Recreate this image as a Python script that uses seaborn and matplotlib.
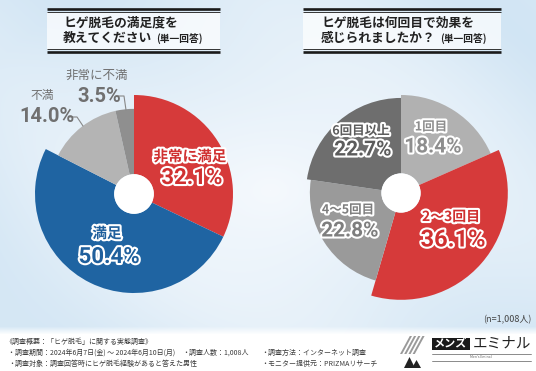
import numpy as np
import matplotlib
matplotlib.use('Agg')
import matplotlib.pyplot as plt
import seaborn as sns
from matplotlib import patheffects as pe
from matplotlib.patches import Rectangle, Polygon, Circle

sns.set_theme(style='white')
plt.rcParams['font.family'] = ['Noto Sans CJK JP', 'DejaVu Sans']
NUM_FONT = ['Liberation Sans Narrow', 'Roboto', 'DejaVu Sans']

# data
sat_labels = ['非常に満足', '満足', '不満', '非常に不満']
sat_values = [32.1, 50.4, 14.0, 3.5]
cnt_labels = ['1回目', '2～3回目', '4～5回目', '6回目以上']
cnt_values = [18.4, 36.1, 22.8, 22.7]

# style
sat_colors = ['#D63A3A', '#1F64A2', '#B4B4B4', '#8F8F8F']
cnt_colors = ['#B1B1B1', '#D63A3A', '#9A9A9A', '#6E6E6E']
sat_radius = [1.0, 1.0, 0.86, 0.86]
cnt_radius = [1.0, 1.09, 0.93, 0.97]
HOLE = 0.2
W, H = 536, 371

fig = plt.figure(figsize=(W / 100, H / 100), dpi=100)

# background
bg = fig.add_axes([0, 0, 1, 1], zorder=0)
yy, xx = np.mgrid[0:H, 0:W]
d = np.sqrt(((xx - 270) / 330.0) ** 2 + ((yy - 190) / 230.0) ** 2)
d = np.clip(d, 0, 1)
streak = 0.5 + 0.5 * np.sin((xx * 0.9 - yy) / 55.0)
light = np.array([245, 249, 253]) / 255.0
dark = np.array([206, 227, 243]) / 255.0
k = (0.6 * d + 0.3 * streak * d)[..., None]
img = light * (1 - k) + dark * k
fade = np.clip((yy - 326) / 8.0, 0, 1)[..., None]
img = img * (1 - fade) + fade * 1.0
bg.imshow(img, extent=(0, W, H, 0), aspect='auto')
bg.set_xlim(0, W)
bg.set_ylim(H, 0)
bg.axis('off')


def draw_pie(cx, cy, scale, values, colors, radii):
    half = 1.25 * scale
    ax = fig.add_axes([(cx - half) / W, 1 - (cy + half) / H, 2 * half / W, 2 * half / H], zorder=1)
    wedges, _ = ax.pie(values, colors=colors, startangle=90, counterclock=False,
                       wedgeprops=dict(width=1 - HOLE, linewidth=0))
    for w, r in zip(wedges, radii):
        w.set_radius(r)
        w.set_width(r - HOLE)
    ax.add_patch(Circle((0, 0), HOLE, facecolor='white', lw=0, zorder=5))
    ax.set_xlim(-1.25, 1.25)
    ax.set_ylim(-1.25, 1.25)
    ax.patch.set_visible(False)
    ax.axis('off')
    return ax


draw_pie(134, 194, 99, sat_values, sat_colors, sat_radius)
draw_pie(401, 193, 98, cnt_values, cnt_colors, cnt_radius)

# overlay for text
ov = fig.add_axes([0, 0, 1, 1], zorder=3)
ov.set_xlim(0, W)
ov.set_ylim(H, 0)
ov.axis('off')
ov.patch.set_visible(False)


def title_box(x0, x1, tx, line1, line2):
    ov.add_patch(Rectangle((x0, 11.5), x1 - x0, 38, facecolor='white', alpha=0.7, lw=0))
    ov.plot([x0, x1], [9, 9], color='#1a1a1a', lw=1.9, solid_capstyle='butt')
    ov.plot([x0, x1], [12, 12], color='#333333', lw=0.7, solid_capstyle='butt')
    ov.plot([x0, x1], [49, 49], color='#333333', lw=0.7, solid_capstyle='butt')
    ov.plot([x0, x1], [52, 52], color='#1a1a1a', lw=1.9, solid_capstyle='butt')
    ov.text(tx, 23, line1, fontsize=9.2, fontweight='bold', color='#222222', va='center', ha='left')
    t2 = ov.text(tx, 38, line2, fontsize=9.2, fontweight='bold', color='#222222', va='center', ha='left')
    ov.annotate('(単一回答)', xy=(1, 0.45), xycoords=t2, xytext=(3, 0), textcoords='offset points',
                fontsize=7, fontweight='bold', color='#222222', va='center', ha='left')


title_box(47, 220, 63, 'ヒゲ脱毛の満足度を', '教えてください')
title_box(303, 501, 321, 'ヒゲ脱毛は何回目で効果を', '感じられましたか？')


def slice_label(x, y, name, pct, color, name_size=9.5, pct_size=14, gap=21):
    stroke = [pe.withStroke(linewidth=3, foreground='white')]
    ov.text(x, y, name, fontsize=name_size, fontweight='bold', color=color,
            ha='center', va='center', path_effects=stroke)
    ov.text(x + 2, y + gap, pct, fontsize=pct_size, fontweight='bold', color=color,
            ha='center', va='center', path_effects=stroke, family=NUM_FONT)


pct = lambda v: f'{v:.1f}%'

# left pie labels
slice_label(190, 156, sat_labels[0], pct(sat_values[0]), '#D03030', name_size=10.5, pct_size=16, gap=22)
slice_label(107, 233, sat_labels[1], pct(sat_values[1]), '#1F5F9C', name_size=10.5, pct_size=16, gap=24)

gray_txt = '#707070'
ov.text(42, 95, sat_labels[2], fontsize=8.5, color=gray_txt, ha='center', va='center')
ov.text(47, 117, pct(sat_values[2]), fontsize=14.5, fontweight='bold', color=gray_txt,
        ha='center', va='center', family=NUM_FONT)
ov.plot([69, 77, 83], [117, 117, 126], color='#888888', lw=0.8)
ov.text(97, 75, sat_labels[3], fontsize=9, color=gray_txt, ha='center', va='center')
ov.text(99, 96, pct(sat_values[3]), fontsize=14.5, fontweight='bold', color=gray_txt,
        ha='center', va='center', family=NUM_FONT)
ov.plot([116, 124, 126], [96, 96, 110], color='#888888', lw=0.8)

# right pie labels
slice_label(431, 127, cnt_labels[0], pct(cnt_values[0]), '#8E8E8E', name_size=9, pct_size=15, gap=20)
slice_label(451, 217, cnt_labels[1], pct(cnt_values[1]), '#D03030', name_size=10, pct_size=17, gap=23)
slice_label(348, 210, cnt_labels[2], pct(cnt_values[2]), '#7E7E7E', name_size=9, pct_size=15, gap=21)
slice_label(361, 131, cnt_labels[3], pct(cnt_values[3]), '#5C5C5C', name_size=9, pct_size=15, gap=19)

ov.text(531, 320, '(n=1,008人)', fontsize=6.5, color='#444444', ha='right', va='center')

# footer
fc = '#3a3a3a'
fs = 5.0
ov.text(5, 342, '《調査概要：「ヒゲ脱毛」に関する実態調査》', fontsize=fs, color=fc, va='center')
ov.text(8, 353, '・調査期間：2024年6月7日(金) ～ 2024年6月10日(月)', fontsize=fs, color=fc, va='center')
ov.text(182, 353, '・調査人数：1,008人', fontsize=fs, color=fc, va='center')
ov.text(261, 353, '・調査方法：インターネット調査', fontsize=fs, color=fc, va='center')
ov.text(8, 364, '・調査対象：調査回答時にヒゲ脱毛経験があると答えた男性', fontsize=fs, color=fc, va='center')
ov.text(261, 364, '・モニター提供元：PRIZMAリサーチ', fontsize=fs, color=fc, va='center')

# logo
for i in range(4):
    x = 400 + i * 4.2
    ov.add_patch(Polygon([(x, 354), (x + 2.2, 354), (x + 12, 336), (x + 9.8, 336)],
                         facecolor='#9a9a9a', lw=0))
ov.add_patch(Polygon([(404, 368), (409.5, 357), (415, 368)], facecolor='#222222', lw=0))
ov.add_patch(Polygon([(412, 368), (416.5, 360), (421, 368)], facecolor='#222222', lw=0))
ov.add_patch(Rectangle((432, 337.5), 38, 12.5, facecolor='#1a1a1a', lw=0))
ov.text(451, 343.5, 'メンズ', fontsize=8, color='white', ha='center', va='center', fontweight='bold')
ov.text(502, 343.5, 'エミナル', fontsize=10.5, color='#222222', ha='center', va='center')
ov.plot([432, 531], [354, 354], color='#777777', lw=0.6)
ov.text(481, 357.5, "Men's Eminal", fontsize=2.5, color='#666666', ha='center', va='center')
ov.plot([432, 531], [361, 361], color='#777777', lw=0.6)

fig.savefig('out.png', dpi=100)
